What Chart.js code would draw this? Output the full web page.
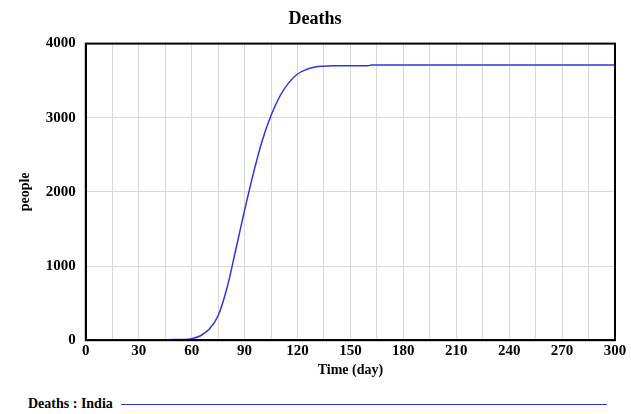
<!DOCTYPE html>
<html><head><script src="https://cdn.jsdelivr.net/npm/chart.js"></script>
<style>body{margin:0;background:#fff;font-family:"Liberation Serif",serif}
#w{position:relative;width:631px;height:414px}
#lg{position:absolute;left:28px;top:396px;font:bold 14px "Liberation Serif";color:#000;display:flex;align-items:center}
#lg span{display:inline-block;width:486px;height:0;border-top:1.5px solid #3333dd;margin-left:8px}
</style></head><body><div id="w"><canvas id="c" width="631" height="390"></canvas><div id="lg">Deaths : India<span></span></div></div>
<script>
const days=[0,5,10,15,20,25,30,35,40,45,50,55,60,65,70,75,80,85,90,95,100,105,110,115,120,125,130,135,140,145,150,155,160,162,165,180,210,240,270,300];
const deaths=[0,2,5,5,6,6,6,6,6,7,8,10,20,60,150,330,700,1220,1750,2250,2690,3030,3290,3470,3590,3650,3685,3695,3700,3700,3700,3700,3700,3712,3712,3712,3712,3712,3712,3712];
const xTicks=[0,30,60,90,120,150,180,210,240,270,300];
const yTicks=[0,1000,2000,3000,4000];
const F='"Liberation Serif",serif';
new Chart(document.getElementById('c'),{type:'line',
data:{datasets:[{data:days.map((d,i)=>({x:d,y:deaths[i]})),borderColor:'#3333dd',borderWidth:1.5,pointRadius:0,cubicInterpolationMode:'monotone'}]},
options:{responsive:false,animation:false,layout:{padding:{left:15,right:16,top:0,bottom:11}},
plugins:{legend:{display:false},title:{display:true,text:'Deaths',color:'#000',font:{family:F,size:18,weight:'bold'},padding:{top:9,bottom:13}}},
scales:{x:{type:'linear',min:0,max:300,afterBuildTicks:a=>{a.ticks=[];for(let v=0;v<=300;v+=15)a.ticks.push({value:v});},
ticks:{color:'#000',font:{family:F,size:15,weight:'bold'},padding:2,maxRotation:0,autoSkip:false,callback:v=>xTicks.includes(v)?v:''},
grid:{color:'#d8d8d8',drawTicks:false},border:{color:'#000',width:2},
title:{display:true,text:'Time (day)',color:'#000',font:{family:F,size:14,weight:'bold'},padding:0}},
y:{min:0,max:4000,afterBuildTicks:a=>{a.ticks=yTicks.map(v=>({value:v}));},
ticks:{color:'#000',font:{family:F,size:15,weight:'bold'},padding:10,callback:v=>v},
grid:{color:'#d8d8d8',drawTicks:false},border:{color:'#000',width:2},
title:{display:true,text:'people',color:'#000',font:{family:F,size:14,weight:'bold'},padding:2}}}},
plugins:[{id:'box',afterDraw(c){const a=c.chartArea,x=c.ctx;x.save();x.strokeStyle='#000';x.lineWidth=2;x.strokeRect(a.left,a.top,a.right-a.left,a.bottom-a.top);x.restore();}}]
});
</script></body></html>
